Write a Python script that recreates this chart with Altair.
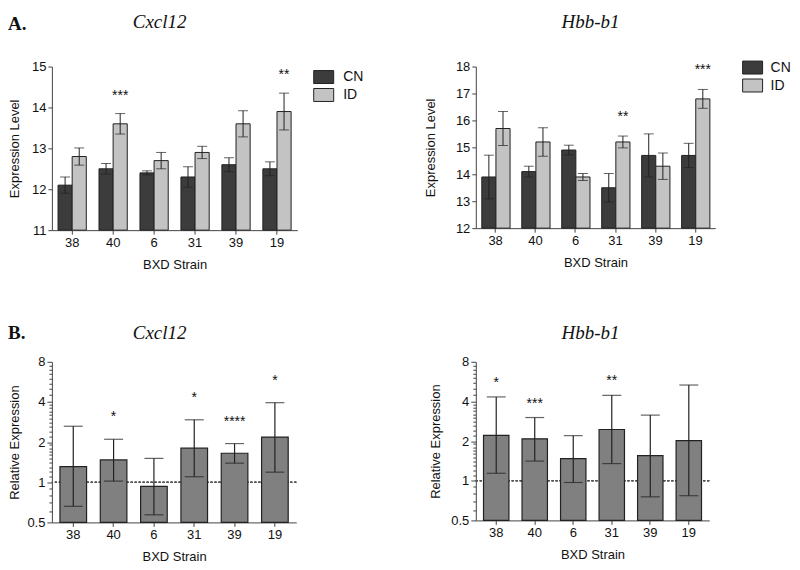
import altair as alt
import pandas as pd

strains = ["38", "40", "6", "31", "39", "19"]
groups = ["CN", "ID"]

# Panel A: Cxcl12 expression level
cxcl_cn = [12.1, 12.5, 12.4, 12.3, 12.6, 12.5]
cxcl_cn_err = [0.20, 0.13, 0.05, 0.25, 0.17, 0.17]
cxcl_id = [12.8, 13.6, 12.7, 12.9, 13.6, 13.9]
cxcl_id_err = [0.21, 0.25, 0.20, 0.15, 0.32, 0.45]
cxcl_stars = ["", "***", "", "", "", "**"]

# Panel A: Hbb-b1 expression level
hbb_cn = [13.9, 14.1, 14.9, 13.5, 14.7, 14.7]
hbb_cn_err = [0.81, 0.20, 0.18, 0.53, 0.80, 0.45]
hbb_id = [15.7, 15.2, 13.9, 15.2, 14.3, 16.8]
hbb_id_err = [0.63, 0.53, 0.13, 0.22, 0.49, 0.35]
hbb_stars = ["", "", "", "**", "", "***"]

# Panel B: relative expression (log2 axis)
cxcl_rel = [1.31, 1.47, 0.93, 1.80, 1.65, 2.18]
cxcl_rel_lo = [0.66, 1.02, 0.57, 1.10, 1.39, 1.19]
cxcl_rel_hi = [2.63, 2.10, 1.51, 2.94, 1.95, 3.95]
cxcl_rel_stars = ["", "*", "", "*", "****", "*"]

hbb_rel = [2.21, 2.08, 1.47, 2.45, 1.55, 2.02]
hbb_rel_lo = [1.14, 1.41, 0.97, 1.35, 0.755, 0.77]
hbb_rel_hi = [4.33, 3.02, 2.20, 4.45, 3.15, 5.33]
hbb_rel_stars = ["*", "***", "", "**", "", ""]

log_major = [0.5, 1, 2, 4, 8]
log_minor = [0.6, 0.7, 0.8, 0.9, 1.1, 1.2, 1.3, 1.4, 1.5, 1.6, 1.7, 1.8, 1.9,
             2.2, 2.4, 2.6, 2.8, 3.0, 3.2, 3.4, 3.6, 3.8, 4.5, 5, 5.5, 6, 6.5, 7, 7.5]

SANS = "Liberation Sans"
SERIF = "Liberation Serif"
INK = "#222222"


def x_enc(width, pi, po):
    return alt.X(
        "strain:N", sort=strains,
        scale=alt.Scale(paddingInner=pi, paddingOuter=po),
        axis=alt.Axis(title="BXD Strain", labelAngle=0, tickSize=4,
                      titleX=width / 2, titleY=34, titleBaseline="middle",
                      titleAlign="center"),
    )


def text_layer(label, x, y, font, size, style="normal", weight="normal",
               align="center", baseline="alphabetic"):
    return alt.Chart(pd.DataFrame({"label": [label]})).mark_text(
        font=font, fontSize=size, fontStyle=style, fontWeight=weight,
        align=align, baseline=baseline, color="#111",
    ).encode(x=alt.value(x), y=alt.value(y), text="label:N")


def panel_a(cn, cn_err, idv, id_err, stars, ymin, ymax, width, height,
            leg_x, leg_y, label_off, star_dy, title, letter=None):
    rows = []
    for i, s in enumerate(strains):
        rows.append(dict(strain=s, group="CN", mean=cn[i],
                         lo=cn[i] - cn_err[i], hi=cn[i] + cn_err[i], star=""))
        rows.append(dict(strain=s, group="ID", mean=idv[i],
                         lo=idv[i] - id_err[i], hi=idv[i] + id_err[i], star=stars[i]))
    df = pd.DataFrame(rows)
    yscale = alt.Scale(domain=[ymin, ymax], nice=False, zero=False)
    yaxis = alt.Axis(title="Expression Level", values=list(range(ymin, ymax + 1)),
                     tickSize=4, titleX=-37 if letter else -45, titleY=height / 2,
                     titleBaseline="middle", titleAlign="center")
    x = x_enc(width, 0.31, 0.15)
    xo = alt.XOffset("group:N", sort=groups, scale=alt.Scale(paddingInner=0, paddingOuter=0))
    base = alt.Chart(df)
    bars = base.mark_bar(stroke=INK, strokeWidth=1).encode(
        x=x, xOffset=xo,
        y=alt.Y("mean:Q", scale=yscale, axis=yaxis),
        y2=alt.datum(ymin),
        fill=alt.Fill("group:N", sort=groups,
                      scale=alt.Scale(domain=groups, range=["#3c3c3c", "#c3c3c3"]),
                      legend=alt.Legend(
                          orient="none", legendX=leg_x, legendY=leg_y, title=None,
                          symbolType="M-1.54,-1L1.54,-1L1.54,1L-1.54,1Z",
                          symbolSize=169, symbolStrokeColor=INK, symbolStrokeWidth=1,
                          labelFont=SANS, labelFontSize=14, labelColor="#111",
                          labelOffset=label_off, rowPadding=0, padding=0)),
    )
    err = base.mark_rule(color=INK, strokeWidth=1).encode(
        x=x, xOffset=xo, y=alt.Y("lo:Q", scale=yscale, axis=yaxis), y2="hi:Q")
    cap_hi = base.mark_tick(color=INK, size=10, thickness=1).encode(
        x=x, xOffset=xo, y=alt.Y("hi:Q", scale=yscale, axis=yaxis))
    cap_lo = base.mark_tick(color=INK, size=10, thickness=1).encode(
        x=x, xOffset=xo, y=alt.Y("lo:Q", scale=yscale, axis=yaxis))
    st = base.mark_text(font=SANS, fontSize=14, baseline="alphabetic", dy=star_dy,
                        color="#111").encode(
        x=x, xOffset=xo, y=alt.Y("hi:Q", scale=yscale, axis=yaxis), text="star:N")
    layers = [bars, err, cap_hi, cap_lo, st,
              text_layer(title, 108 if letter else 115, -39, SERIF, 19, style="italic")]
    if letter:
        layers.append(text_layer(letter, -44, -52, SERIF, 19, weight="bold",
                                 align="left", baseline="top"))
    return alt.layer(*layers).properties(width=width, height=height)


def panel_b(rel, lo, hi, stars, width, height, star_dy, title, title_x,
            ytitle_x, letter=None):
    df = pd.DataFrame(dict(strain=strains, rel=rel, lo=lo, hi=hi, star=stars))
    yscale = alt.Scale(type="log", base=2, domain=[0.5, 8], nice=False)
    major_test = "indexof([0.5, 1, 2, 4, 8], datum.value) >= 0"
    yaxis = alt.Axis(
        title="Relative Expression", values=log_major + log_minor, format="~g",
        labelExpr=f"{major_test} ? datum.label : ''",
        tickSize={"condition": {"test": major_test, "value": 5}, "value": 3},
        titleX=ytitle_x, titleY=height / 2, titleBaseline="middle", titleAlign="center")
    x = x_enc(width, 0.34, 0.2)
    base = alt.Chart(df)
    ref = base.mark_rule(color="#555", strokeWidth=1, strokeDash=[2, 2]).encode(
        y=alt.YDatum(1, scale=yscale, axis=yaxis))
    bars = base.mark_bar(fill="#808080", stroke=INK, strokeWidth=1.2).encode(
        x=x, y=alt.Y("rel:Q", scale=yscale, axis=yaxis), y2=alt.datum(0.5))
    err = base.mark_rule(color=INK, strokeWidth=1.2).encode(
        x=x, y=alt.Y("lo:Q", scale=yscale, axis=yaxis), y2="hi:Q")
    cap_hi = base.mark_tick(color=INK, size=19, thickness=1.2).encode(
        x=x, y=alt.Y("hi:Q", scale=yscale, axis=yaxis))
    cap_lo = base.mark_tick(color=INK, size=19, thickness=1.2).encode(
        x=x, y=alt.Y("lo:Q", scale=yscale, axis=yaxis))
    st = base.mark_text(font=SANS, fontSize=14, baseline="alphabetic", dy=star_dy,
                        color="#111").encode(
        x=x, y=alt.Y("hi:Q", scale=yscale, axis=yaxis), text="star:N")
    layers = [ref, bars, err, cap_hi, cap_lo, st,
              text_layer(title, title_x, -23, SERIF, 19, style="italic")]
    if letter:
        layers.append(text_layer(letter, -44, -23, SERIF, 19, weight="bold",
                                 align="left"))
    return alt.layer(*layers).properties(width=width, height=height)


a1 = panel_a(cxcl_cn, cxcl_cn_err, cxcl_id, cxcl_id_err, cxcl_stars, 11, 15,
             246, 164, 265.5, 3.5, 12.5, -14, "Cxcl12", letter="A.")
a2 = panel_a(hbb_cn, hbb_cn_err, hbb_id, hbb_id_err, hbb_stars, 12, 18,
             240, 162, 270.5, -6, 11, -15, "Hbb-b1")
b1 = panel_b(cxcl_rel, cxcl_rel_lo, cxcl_rel_hi, cxcl_rel_stars, 245, 161, -18,
             "Cxcl12", 108, -37, letter="B.")
b2 = panel_b(hbb_rel, hbb_rel_lo, hbb_rel_hi, hbb_rel_stars, 234, 159, -10,
             "Hbb-b1", 115, -40)

chart = alt.concat(
    a1, a2, b1, b2, columns=2, spacing={"row": 132, "column": 179}, bounds="flush"
).resolve_scale(
    fill="independent"
).properties(
    padding={"left": 0, "top": 4, "right": 0, "bottom": 0},
    background="white",
).configure_view(stroke=None).configure_axis(
    domainColor="#444", tickColor="#444", labelColor="#111", titleColor="#111",
    labelFont=SANS, titleFont=SANS, labelFontSize=13, titleFontSize=13,
    titleFontWeight="normal", grid=False, labelPadding=2,
)

chart.save("out.html", embed_options={"renderer": "svg", "actions": False})
